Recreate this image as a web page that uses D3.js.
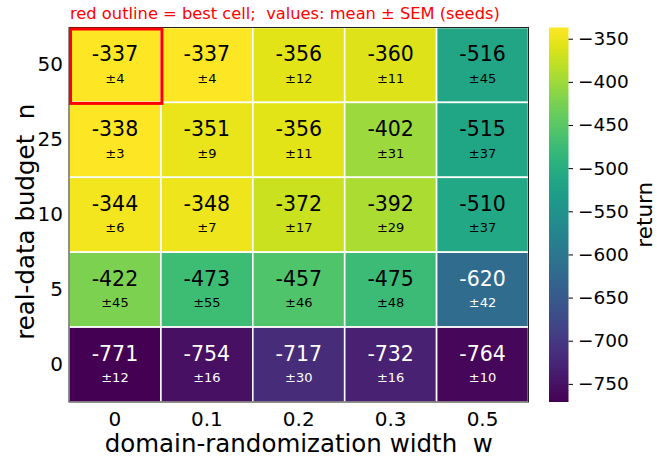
<!DOCTYPE html>
<html>
<head>
<meta charset="utf-8">
<script src="https://cdn.jsdelivr.net/npm/d3@7"></script>
<style>
  body { margin: 0; background: #fff; }
  text { font-family: "DejaVu Sans", sans-serif; white-space: pre; }
</style>
</head>
<body>
<div id="chart"></div>
<script>
const widths = ["0", "0.1", "0.2", "0.3", "0.5"];
const budgets = ["50", "25", "10", "5", "0"];
const means = [
    [-337, -337, -356, -360, -516],
    [-338, -351, -356, -402, -515],
    [-344, -348, -372, -392, -510],
    [-422, -473, -457, -475, -620],
    [-771, -754, -717, -732, -764]
];
const sems = [
    [4, 4, 12, 11, 45],
    [3, 9, 11, 31, 37],
    [6, 7, 17, 29, 37],
    [45, 55, 46, 48, 42],
    [12, 16, 30, 16, 10]
];
const cbTicks = [-350, -400, -450, -500, -550, -600, -650, -700, -750];
const best = { row: 0, col: 0 };

const W = 657, H = 458;
const margin = { top: 27.5, left: 69 };
const pw = 459.5, ph = 374.5;

const svg = d3.select("#chart").append("svg")
    .attr("width", W)
    .attr("height", H);

const allVals = means.flat();
const vmin = d3.min(allVals), vmax = d3.max(allVals);
const color = d3.scaleSequential(d3.interpolateViridis).domain([vmin, vmax]);

const x = d3.scaleBand().domain(widths).range([margin.left, margin.left + pw]);
const y = d3.scaleBand().domain(budgets).range([margin.top, margin.top + ph]);

// cells
const cells = [];
budgets.forEach((b, i) => {
    widths.forEach((w, j) => {
        cells.push({ b: b, w: w, mean: means[i][j], sem: sems[i][j], row: i, col: j });
    });
});

const g = svg.append("g");
g.selectAll("rect.cell")
    .data(cells)
    .enter().append("rect")
    .attr("class", "cell")
    .attr("x", d => x(d.w))
    .attr("y", d => y(d.b))
    .attr("width", x.bandwidth())
    .attr("height", y.bandwidth())
    .attr("fill", d => color(d.mean))
    .attr("stroke", "#fff")
    .attr("stroke-width", 1.6);

const textColor = d => d.mean < -600 ? "#fff" : "#000";

g.selectAll("text.val")
    .data(cells)
    .enter().append("text")
    .attr("class", "val")
    .attr("x", d => x(d.w) + x.bandwidth() / 2)
    .attr("y", d => y(d.b) + y.bandwidth() / 2 - 11)
    .attr("dy", "0.36em")
    .attr("text-anchor", "middle")
    .attr("font-size", 20.5)
    .attr("fill", textColor)
    .text(d => d.mean);

g.selectAll("text.sem")
    .data(cells)
    .enter().append("text")
    .attr("class", "sem")
    .attr("x", d => x(d.w) + x.bandwidth() / 2)
    .attr("y", d => y(d.b) + y.bandwidth() / 2 + 13)
    .attr("dy", "0.36em")
    .attr("text-anchor", "middle")
    .attr("font-size", 13)
    .attr("fill", textColor)
    .text(d => "±" + d.sem);

// frame
svg.append("rect")
    .attr("x", margin.left)
    .attr("y", margin.top)
    .attr("width", pw)
    .attr("height", ph)
    .attr("fill", "none")
    .attr("stroke", "#222")
    .attr("stroke-width", 1);

// best cell outline
svg.append("rect")
    .attr("x", x(widths[best.col]) + 1.5)
    .attr("y", y(budgets[best.row]) + 1.5)
    .attr("width", x.bandwidth() - 0.5)
    .attr("height", y.bandwidth() - 0.5)
    .attr("fill", "none")
    .attr("stroke", "#ff0000")
    .attr("stroke-width", 3);

// axes tick labels
svg.append("g")
    .attr("transform", `translate(0,${margin.top + ph})`)
    .call(d3.axisBottom(x).tickSize(0).tickPadding(10))
    .call(a => a.select(".domain").remove())
    .selectAll("text")
    .attr("font-size", 20)
    .attr("font-family", "DejaVu Sans")
    .attr("fill", "#000");

svg.append("g")
    .attr("transform", `translate(${margin.left},0)`)
    .call(d3.axisLeft(y).tickSize(0).tickPadding(6))
    .call(a => a.select(".domain").remove())
    .selectAll("text")
    .attr("font-size", 20)
    .attr("font-family", "DejaVu Sans")
    .attr("fill", "#000");

// axis labels
svg.append("text")
    .attr("x", margin.left + pw / 2)
    .attr("y", 452)
    .attr("text-anchor", "middle")
    .attr("font-size", 24.5)
    .text("domain-randomization width  w");

svg.append("text")
    .attr("transform", `translate(34,${margin.top + ph / 2 + 7}) rotate(-90)`)
    .attr("text-anchor", "middle")
    .attr("font-size", 24.5)
    .text("real-data budget  n");

// title
svg.append("text")
    .attr("x", 70)
    .attr("y", 19)
    .attr("font-size", 16.3)
    .attr("fill", "#ff0000")
    .text("red outline = best cell;  values: mean ± SEM (seeds)");

// colorbar
const cbX = 549, cbW = 19.5;
const cbScale = d3.scaleLinear().domain([vmin, vmax]).range([margin.top + ph, margin.top]);

const defs = svg.append("defs");
const grad = defs.append("linearGradient")
    .attr("id", "cbgrad")
    .attr("x1", 0).attr("y1", 1).attr("x2", 0).attr("y2", 0);
d3.range(0, 1.0001, 0.05).forEach(t => {
    grad.append("stop")
        .attr("offset", t)
        .attr("stop-color", d3.interpolateViridis(t));
});

svg.append("rect")
    .attr("x", cbX)
    .attr("y", margin.top)
    .attr("width", cbW)
    .attr("height", ph)
    .attr("fill", "url(#cbgrad)");

svg.append("g")
    .attr("transform", `translate(${cbX + cbW},0)`)
    .call(d3.axisRight(cbScale).tickValues(cbTicks).tickSize(4.5).tickPadding(5)
        .tickFormat(d => String(d).replace("-", "\u2212")))
    .call(a => a.select(".domain").remove())
    .call(a => a.selectAll("line").attr("stroke", "#000"))
    .selectAll("text")
    .attr("font-size", 18.5)
    .attr("font-family", "DejaVu Sans")
    .attr("fill", "#000");

svg.append("text")
    .attr("transform", `translate(651.5,${margin.top + ph / 2}) rotate(-90)`)
    .attr("text-anchor", "middle")
    .attr("font-size", 21.5)
    .text("return");
</script>
</body>
</html>
